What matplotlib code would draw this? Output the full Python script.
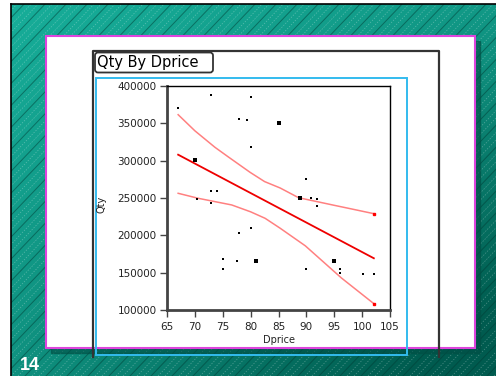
import numpy as np
import matplotlib.pyplot as plt
from matplotlib.patches import Rectangle, FancyBboxPatch

# scatter data
dprice = [67, 72.9, 80.1, 77.9, 79.4, 85.1, 80, 70, 90, 72.9, 73.9, 70.4, 72.9,
          88.9, 90.9, 91.9, 91.9, 80.1, 77.9, 75, 75, 77.6, 81, 89.9, 95,
          96, 96, 100.2, 102.1]
qty = [370500, 388000, 385300, 355800, 354000, 350000, 318700, 300500, 276000,
       259800, 259800, 249100, 243800, 249600, 250000, 248700, 239000, 209400,
       203600, 168700, 154600, 165300, 165300, 155000, 165700, 155000, 150000,
       148300, 148300]
big = [5, 7, 13, 22, 24]  # points drawn a bit larger

fit_x = [67, 102.1]
fit_y = [308000, 169300]
upper_x = [67, 70, 73.6, 76, 79.9, 82.5, 85.3, 88.6, 92, 95, 98, 102.1]
upper_y = [361600, 340000, 317900, 305000, 284400, 272000, 263400, 250400,
           245000, 240200, 235500, 229000]
lower_x = [67, 70.6, 76.6, 80, 82.6, 85.3, 89.8, 96.3, 102.1]
lower_y = [256300, 249600, 240700, 231500, 222800, 209500, 186000, 142800, 108500]

xticks = [65, 70, 75, 80, 85, 90, 95, 100, 105]
yticks = [100000, 150000, 200000, 250000, 300000, 350000, 400000]

W, H = 496, 376
fig = plt.figure(figsize=(W / 100, H / 100), dpi=100)
fig.patch.set_facecolor('white')

bg = fig.add_axes([0, 0, 1, 1])
bg.set_xlim(0, W)
bg.set_ylim(H, 0)
bg.axis('off')

# teal gradient background
gx, gy = np.meshgrid(np.linspace(0, 1, 200), np.linspace(0, 1, 150))
t = np.clip(0.25 * gx + 0.35 * gy + 0.55 * gx * gy, 0, 1)
c0 = np.array([0.09, 0.68, 0.60])
c1 = np.array([0.00, 0.36, 0.31])
img = c0[None, None, :] * (1 - t[..., None]) + c1[None, None, :] * t[..., None]
bg.imshow(img, extent=[11, W, H, 4], aspect='auto', zorder=0)
clip = Rectangle((11, 4), W - 11, H - 4, transform=bg.transData)
k = 0
for c in range(-500, 900, 7):
    if k % 3 == 0:
        ln, = bg.plot([c, c + 360], [H, 0], color='#003a33', lw=0.7, alpha=0.5, zorder=1)
    else:
        ln, = bg.plot([c, c + 360], [H, 0], color='white', lw=0.5, alpha=0.3,
                      ls=(0, (2, 2)), zorder=1)
    ln.set_clip_path(clip)
    k += 1
bg.plot([11, 11], [H, 4], color='black', lw=1.2, zorder=2)
bg.plot([11, W], [4, 4], color='black', lw=1.2, zorder=2)

# panel shadow + white panel
bg.add_patch(Rectangle((51, 41), 429, 312, color='#004f45', alpha=0.6, zorder=2))
bg.add_patch(Rectangle((46, 36), 429, 312, facecolor='white', edgecolor='#dd44dd',
                       lw=1.5, zorder=3))

# report frame, title box, cyan box
bg.plot([92.5, 92.5, 438.5, 438.5], [357, 50.5, 50.5, 357], color='#333333',
        lw=1.6, zorder=4, solid_joinstyle='round')
bg.add_patch(FancyBboxPatch((95, 52.5), 118, 20, boxstyle='round,pad=0,rounding_size=3',
                            facecolor='white', edgecolor='#333333', lw=1.3, zorder=5))
bg.text(97, 63, 'Qty By Dprice', fontsize=10.5, color='black', va='center',
        ha='left', zorder=6)
bg.add_patch(Rectangle((95.5, 77.5), 311, 277, facecolor='none', edgecolor='#33bbee',
                       lw=1.4, zorder=5))
bg.text(20, 365, '14', fontsize=13, fontweight='bold', color='white',
        family='Liberation Sans', va='center', ha='left', zorder=6)

# plot axes
ax = fig.add_axes([167 / W, 1 - 310 / H, 223 / W, 224 / H])
ax.set_zorder(10)
ax.set_facecolor('white')
ax.set_xlim(65, 105)
ax.set_ylim(100000, 400000)
ax.set_xticks(xticks)
ax.set_yticks(yticks)
ax.set_xticklabels([str(v) for v in xticks], fontsize=7.5, color='#222222')
ax.set_yticklabels([str(v) for v in yticks], fontsize=7.5, color='#222222')
ax.tick_params(direction='out', length=5, width=1, color='#444444')
ax.tick_params(axis='x', pad=3.5)
ax.tick_params(axis='y', pad=2.5)
for s in ['left', 'bottom']:
    ax.spines[s].set_linewidth(2)
    ax.spines[s].set_color('#444444')
for s in ['top', 'right']:
    ax.spines[s].set_linewidth(1)
    ax.spines[s].set_color('black')
ax.set_xlabel('Dprice', fontsize=7, labelpad=2, color='#222222')
ax.set_ylabel('Qty', fontsize=7, color='#222222')
ax.yaxis.set_label_coords(-0.27, 0.47)

ax.plot(upper_x, upper_y, color='#ff8080', lw=1.1)
ax.plot(lower_x, lower_y, color='#ff8080', lw=1.1)
ax.plot(fit_x, fit_y, color='#ee0000', lw=1.3)
ax.plot([upper_x[-1], lower_x[-1]], [upper_y[-1], lower_y[-1]], 's', color='red', ms=2)

sizes = [3 if i in big else 2 for i in range(len(dprice))]
for x, y, s in zip(dprice, qty, sizes):
    ax.plot(x, y, 's', color='black', ms=s, mew=0)

fig.savefig('out.png', dpi=100)
